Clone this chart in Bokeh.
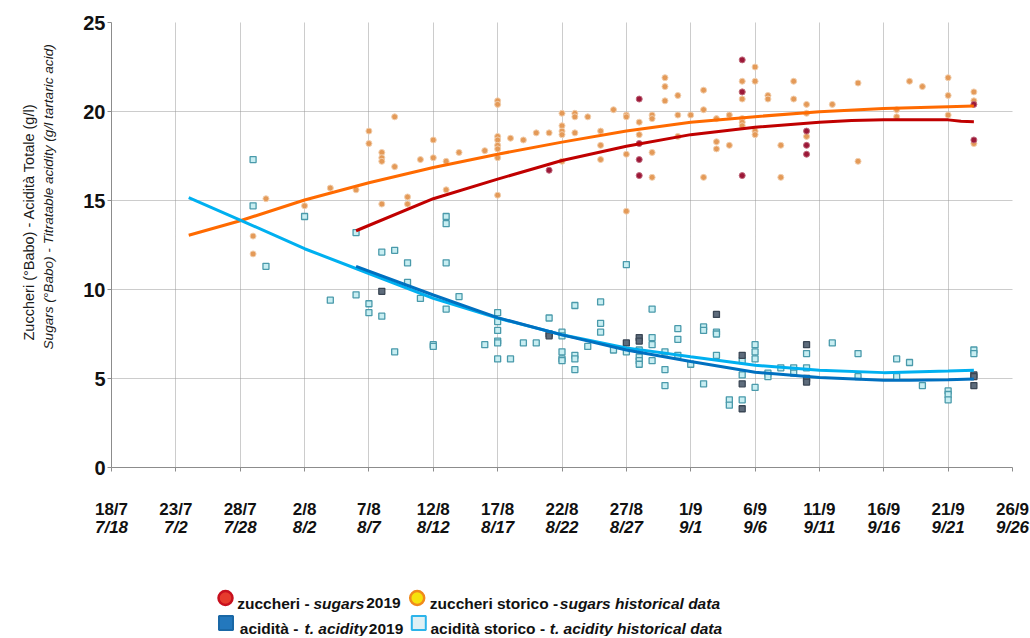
from bokeh.plotting import figure
from bokeh.models import Range1d, FixedTicker, LinearAxis, Title
from bokeh.layouts import column
from bokeh.embed import file_html
from bokeh.resources import INLINE
from bokeh.core.properties import value

# ---------------- data (x = days since 18 July 2019) ----------------
tick_days = [0, 5, 10, 15, 20, 25, 30, 35, 40, 45, 50, 55, 60, 65, 70]
tick_labels_it = ["18/7", "23/7", "28/7", "2/8", "7/8", "12/8", "17/8", "22/8",
                  "27/8", "1/9", "6/9", "11/9", "16/9", "21/9", "26/9"]
tick_labels_en = ["7/18", "7/2", "7/28", "8/2", "8/7", "8/12", "8/17", "8/22",
                  "8/27", "9/1", "9/6", "9/11", "9/16", "9/21", "9/26"]
y_ticks = [0, 5, 10, 15, 20, 25]

sugar_hist_day = [11, 11, 12, 15, 17, 19, 20, 20, 21, 21, 21, 21, 22, 22, 23, 23, 24, 25, 25, 26, 26,
                  27, 29, 30, 30, 30, 30, 30, 30, 30, 30, 31, 32, 33, 34, 35, 35, 35, 35, 35,
                  36, 36, 36, 37, 38, 38, 38, 39, 40, 40, 40, 40, 41, 41, 42, 42, 42, 42,
                  43, 43, 43, 44, 44, 44, 45, 46, 46, 46, 47, 47, 47, 48, 48,
                  49, 49, 49, 49, 49, 49, 50, 50, 50, 50, 51, 51, 52, 52, 53, 53, 54, 54, 54,
                  56, 58, 58, 61, 61, 62, 63, 65, 65, 65, 67, 67, 67]
sugar_hist_val = [13.0, 12.0, 15.1, 14.7, 15.7, 15.6, 18.9, 18.2, 17.7, 17.4, 17.2, 14.8, 19.7, 16.9, 15.2, 14.8, 17.3, 18.4, 17.4, 17.2, 15.6,
                  17.7, 17.8, 20.6, 20.4, 18.6, 18.4, 18.1, 17.9, 17.4, 15.3, 18.5, 18.4, 18.8, 18.8, 19.9, 19.2, 18.9, 18.7, 17.2,
                  19.9, 19.7, 18.8, 19.7, 18.9, 18.1, 17.3, 20.1, 19.8, 19.7, 17.6, 14.4, 19.4, 18.7, 19.8, 19.6, 17.7, 16.3,
                  21.9, 21.4, 20.6, 20.9, 19.8, 18.6, 19.8, 21.2, 20.1, 16.3, 19.6, 18.3, 17.9, 19.8, 18.1,
                  21.7, 21.1, 20.7, 19.6, 19.4, 19.2, 22.5, 21.7, 18.9, 18.7, 20.9, 20.7, 18.1, 16.3, 21.7, 20.7, 20.4, 19.9, 18.6,
                  20.4, 21.6, 17.2, 20.1, 19.7, 21.7, 21.4, 21.9, 20.9, 19.8, 21.1, 20.6, 18.2]

sugar_2019_day = [34, 41, 41, 41, 41, 49, 49, 49, 54, 54, 54, 67, 67]
sugar_2019_val = [16.7, 20.7, 18.2, 17.3, 16.4, 22.9, 21.1, 16.4, 18.9, 18.1, 17.6, 20.4, 18.4]

acid_hist_day = [11, 11, 12, 15, 17, 19, 19, 20, 20, 21, 21, 22, 22, 23, 23, 24, 25, 25, 26, 26, 26, 26,
                 27, 29, 30, 30, 30, 30, 30, 30, 31, 32, 33, 34, 35, 35, 35, 35, 35, 36, 36, 36, 36,
                 37, 38, 38, 38, 39, 40, 40, 41, 41, 41, 41, 42, 42, 42, 42, 43, 43, 43, 44, 44, 44,
                 45, 46, 46, 46, 47, 47, 47, 48, 48, 49, 49, 49, 50, 50, 50, 50, 51, 51, 52, 53, 53,
                 54, 54, 56, 58, 58, 61, 61, 62, 63, 65, 65, 65, 67, 67]
acid_hist_val = [17.3, 14.7, 11.3, 14.1, 9.4, 13.2, 9.7, 9.2, 8.7, 12.1, 8.5, 12.2, 6.5, 11.5, 10.4, 9.5, 6.9, 6.8, 14.1, 13.7, 11.5, 8.9,
                 9.6, 6.9, 8.7, 8.2, 7.7, 7.1, 7.0, 6.1, 6.1, 7.0, 7.0, 8.4, 7.6, 7.4, 6.5, 6.1, 6.0, 9.1, 6.3, 6.1, 5.5,
                 6.8, 9.3, 8.1, 7.6, 6.6, 11.4, 6.5, 6.6, 6.2, 6.0, 5.8, 8.9, 7.3, 6.9, 6.0, 6.5, 5.5, 4.6, 7.8, 7.2, 6.3,
                 5.8, 7.9, 7.7, 4.7, 7.6, 7.5, 6.3, 3.8, 3.5, 6.0, 5.2, 3.8, 6.9, 6.5, 6.1, 4.5, 5.3, 5.1, 5.6, 5.6, 5.3,
                 6.4, 5.6, 7.0, 6.4, 5.1, 6.1, 5.1, 5.9, 4.6, 4.3, 4.1, 3.8, 6.6, 6.4]

acid_2019_day = [21, 34, 34, 40, 41, 41, 47, 49, 49, 49, 54, 54, 54, 67, 67, 67]
acid_2019_val = [9.9, 7.5, 7.4, 7.0, 7.3, 7.1, 8.6, 6.3, 4.7, 3.3, 6.9, 5.0, 4.8, 5.2, 5.1, 4.6]

# trend curves
sugar_hist_trend_day = [6, 10, 15, 20, 25, 30, 35, 40, 45, 50, 55, 60, 65, 67]
sugar_hist_trend_val = [13.05, 13.86, 15.03, 16.0, 16.85, 17.6, 18.28, 18.9, 19.39, 19.71, 19.99, 20.17, 20.27, 20.31]
sugar_2019_trend_day = [19, 25, 30, 35, 40, 45, 50, 55, 57.5, 60, 65, 66, 67]
sugar_2019_trend_val = [13.3, 15.1, 16.2, 17.25, 18.05, 18.7, 19.12, 19.39, 19.5, 19.53, 19.53, 19.45, 19.43]
acid_hist_trend_day = [6, 10, 15, 20, 25, 30, 35, 40, 45, 50, 55, 60, 65, 67]
acid_hist_trend_val = [15.16, 13.9, 12.29, 10.9, 9.5, 8.39, 7.46, 6.72, 6.22, 5.74, 5.47, 5.33, 5.42, 5.47]
acid_2019_trend_day = [19, 25, 30, 35, 40, 45, 50, 55, 60, 62, 65, 67]
acid_2019_trend_val = [11.3, 9.69, 8.42, 7.45, 6.6, 5.95, 5.35, 5.05, 4.9, 4.9, 4.93, 4.97]

# ---------------- layout constants ----------------
W = 1030
H1 = 540
H2 = 96
FRAME_L, FRAME_R, FRAME_T, FRAME_B = 111, 1012, 22, 467
FONT = "Liberation Sans"
GRID = "#999999"
AXIS = "#8c8c8c"
TXT = "#111111"

p = figure(width=W, height=H1, x_range=Range1d(0, 70), y_range=Range1d(0, 25),
           output_backend="svg", toolbar_location=None,
           min_border_left=FRAME_L, min_border_right=W - FRAME_R,
           min_border_top=FRAME_T, min_border_bottom=H1 - FRAME_B)
p.outline_line_color = None

# x axis: first line of dates (bold)
xa = p.xaxis[0]
xa.ticker = FixedTicker(ticks=tick_days)
xa.major_label_overrides = {d: t for d, t in zip(tick_days, tick_labels_it)}
xa.major_label_standoff = 28
# second line of dates (bold italic)
xa2 = LinearAxis(ticker=FixedTicker(ticks=tick_days),
                 major_label_overrides={d: t for d, t in zip(tick_days, tick_labels_en)})
xa2.axis_line_color = None
xa2.major_tick_line_color = None
xa2.minor_tick_line_color = None
xa2.major_tick_out = 0
xa2.major_tick_in = 0
xa2.minor_tick_out = 0
xa2.minor_tick_in = 0
xa2.major_label_standoff = -4
p.add_layout(xa2, "below")

for ax, style in ((xa, "bold"), (xa2, "bold italic")):
    ax.major_label_text_font = FONT
    ax.major_label_text_font_style = style
    ax.major_label_text_font_size = "17px"
    ax.major_label_text_color = TXT

ya = p.yaxis[0]
ya.ticker = FixedTicker(ticks=y_ticks)
for ax in (xa, ya):
    ax.axis_line_color = AXIS
    ax.major_tick_line_color = AXIS
    ax.major_tick_out = 4
    ax.major_tick_in = 0
    ax.minor_tick_out = 0
    ax.minor_tick_in = 0
ya.major_label_standoff = 2
ya.major_label_text_font = FONT
ya.major_label_text_font_style = "bold"
ya.major_label_text_font_size = "20px"
ya.major_label_text_color = TXT

p.xgrid.ticker = FixedTicker(ticks=tick_days)
p.ygrid.ticker = FixedTicker(ticks=y_ticks)
for g in (p.xgrid[0], p.ygrid[0]):
    g.grid_line_color = GRID
    g.grid_line_dash = "1 1"
    g.grid_line_width = 1

# y-axis titles: spacer, italic inner line, regular outer line
p.add_layout(Title(text=" ", text_font_size="1px", standoff=22), "left")
p.add_layout(Title(text="Sugars (°Babo) - Titratable acidity (g/l tartaric acid)",
                   align="left", vertical_align="bottom", offset=118, standoff=0,
                   text_font=FONT, text_font_style="italic", text_font_size="13.6px",
                   text_color="#1a1a1a"), "left")
p.add_layout(Title(text="Zuccheri (°Babo) - Acidità Totale (g/l)",
                   align="left", vertical_align="bottom", offset=127, standoff=4,
                   text_font=FONT, text_font_style="normal", text_font_size="14.5px",
                   text_color="#1a1a1a"), "left")

# scatter points
p.scatter(acid_hist_day, acid_hist_val, marker="square", size=6,
          fill_color="#c8eef2", line_color="#4a9aab", line_width=1.3)
p.scatter(acid_2019_day, acid_2019_val, marker="square", size=6,
          fill_color="#5e6c7c", line_color="#3a4654", line_width=1.3)
p.scatter(sugar_hist_day, sugar_hist_val, marker="circle", size=6,
          fill_color="#e49a58", line_color="#f2cfae", line_width=1)
p.scatter(sugar_2019_day, sugar_2019_val, marker="circle", size=6,
          fill_color="#9c1838", line_color="#c06a7c", line_width=1)

# trend lines
p.line(sugar_hist_trend_day, sugar_hist_trend_val, line_color="#ff6a00", line_width=3)
p.line(sugar_2019_trend_day, sugar_2019_trend_val, line_color="#c00000", line_width=3)
p.line(acid_hist_trend_day, acid_hist_trend_val, line_color="#00b0f0", line_width=3)
p.line(acid_2019_trend_day, acid_2019_trend_val, line_color="#0070c0", line_width=3)

# ---------------- lower panel: legend ----------------
p2 = figure(width=W, height=H2, x_range=Range1d(0, 70), y_range=Range1d(H2, 0),
            output_backend="svg", toolbar_location=None,
            min_border_left=FRAME_L, min_border_right=W - FRAME_R,
            min_border_top=0, min_border_bottom=0,
            x_axis_location=None, y_axis_location=None)
p2.outline_line_color = None
p2.grid.visible = False


def px(xpix):
    # page pixel -> day units of the shared horizontal scale
    return (xpix - FRAME_L) * 70.0 / (FRAME_R - FRAME_L)


def seg(x, y, t, italic=False):
    p2.text(x=[px(x)], y=[y], text=[t], text_font=value(FONT),
            text_font_size="15.5px",
            text_font_style="bold italic" if italic else "bold",
            text_align="left", text_baseline="alphabetic", text_color=TXT)


R1, R2 = 62.5, 88
M1, M2 = 57.5, 82.5
p2.scatter([px(225)], [M1], marker="circle", size=14, fill_color="#e63b2d", line_color="#c8101e", line_width=2.5)
seg(236.7, R1, "zuccheri - ")
seg(313, R1, "sugars", True)
seg(365.7, R1, "2019")
p2.scatter([px(416.7)], [M1], marker="circle", size=14, fill_color="#f6e20c", line_color="#f08a1c", line_width=2.5)
seg(429.3, R1, "zuccheri storico - ")
seg(559.3, R1, "sugars historical data", True)

p2.scatter([px(225.5)], [M2], marker="square", size=14, fill_color="#2378bd", line_color="#1a68a6", line_width=2)
seg(239.3, R2, "acidità - ")
seg(304, R2, "t. acidity", True)
seg(368.3, R2, "2019")
p2.scatter([px(418.3)], [M2], marker="square", size=14, fill_color="#dff0f4", line_color="#2cb4ea", line_width=2)
seg(430, R2, "acidità storico - ")
seg(549.3, R2, "t. acidity historical data", True)

layout = column(p, p2, spacing=0)
open("out.html", "w").write(file_html(layout, INLINE))
